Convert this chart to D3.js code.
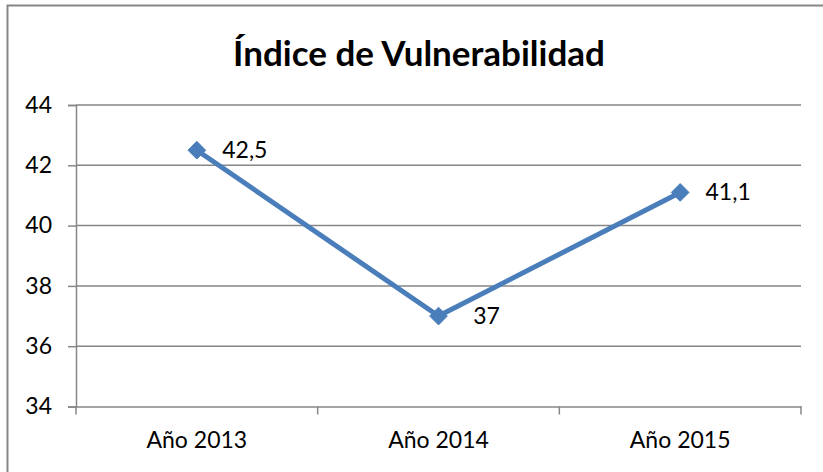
<!DOCTYPE html>
<html>
<head>
<meta charset="utf-8">
<script src="https://cdn.jsdelivr.net/npm/d3@7"></script>
<style>
  html, body { margin: 0; padding: 0; background: #fff; }
  svg { display: block; font-family: Lato, "Open Sans", sans-serif; }
</style>
</head>
<body>
<svg id="chart" width="823" height="472"></svg>
<script>
// Vulnerability index by year
const categories = ["Año 2013", "Año 2014", "Año 2015"];
const values = [42.5, 37, 41.1];
const valueLabels = ["42,5", "37", "41,1"];
const yTicks = [34, 36, 38, 40, 42, 44];
const title = "Índice de Vulnerabilidad";

const svg = d3.select("#chart");
const W = 823, H = 472;
const margin = { left: 76, right: 22, top: 105, bottom: 65.5 };
const plotRight = W - margin.right;
const plotBottom = H - margin.bottom;

const gridColor = "#868686";
const lineColor = "#4A7EBB";
const labelSize = 23;

// Outer chart frame (extends past the right/bottom edges)
svg.append("rect")
  .attr("x", 7.5).attr("y", 5.5)
  .attr("width", W + 20).attr("height", H + 20)
  .attr("fill", "none")
  .attr("stroke", gridColor)
  .attr("stroke-width", 2);

const x = d3.scaleBand().domain(categories).range([margin.left, plotRight]).padding(0);
const y = d3.scaleLinear().domain([34, 44]).range([plotBottom, margin.top]);

// Horizontal gridlines
svg.append("g")
  .selectAll("line")
  .data(yTicks.filter(t => t !== 34))
  .join("line")
  .attr("x1", margin.left).attr("x2", plotRight)
  .attr("y1", d => y(d)).attr("y2", d => y(d))
  .attr("stroke", gridColor).attr("stroke-width", 1.5);

// Y axis
const yAxis = svg.append("g")
  .attr("transform", `translate(${margin.left},0)`)
  .call(d3.axisLeft(y).tickValues(yTicks).tickSize(8).tickPadding(16));
yAxis.select(".domain").attr("stroke", gridColor).attr("stroke-width", 1.5);
yAxis.selectAll(".tick line").attr("stroke", gridColor).attr("stroke-width", 1.5);
yAxis.selectAll(".tick text")
  .attr("fill", "#000").attr("font-size", labelSize).attr("font-family", "Lato, sans-serif");

// X axis with ticks at band boundaries
const xAxis = svg.append("g")
  .attr("transform", `translate(0,${plotBottom})`)
  .call(d3.axisBottom(x).tickSize(0).tickPadding(25));
xAxis.select(".domain").attr("stroke", gridColor).attr("stroke-width", 1.5);
xAxis.selectAll(".tick text")
  .attr("fill", "#000").attr("font-size", labelSize).attr("font-family", "Lato, sans-serif");
const bounds = categories.map(c => x(c)).concat([x(categories[categories.length - 1]) + x.bandwidth()]);
xAxis.selectAll(".bound")
  .data(bounds)
  .join("line")
  .attr("class", "bound")
  .attr("x1", d => d).attr("x2", d => d)
  .attr("y1", 0).attr("y2", 8)
  .attr("stroke", gridColor).attr("stroke-width", 1.5);

// Series line
const pts = categories.map((c, i) => [x(c) + x.bandwidth() / 2, y(values[i])]);
svg.append("path")
  .datum(pts)
  .attr("d", d3.line())
  .attr("fill", "none")
  .attr("stroke", lineColor)
  .attr("stroke-width", 5)
  .attr("stroke-linejoin", "round");

// Diamond markers
svg.append("g")
  .selectAll("path")
  .data(pts)
  .join("path")
  .attr("transform", d => `translate(${d[0]},${d[1]})`)
  .attr("d", d3.symbol(d3.symbolDiamond2, 200)())
  .attr("fill", lineColor)
  .attr("stroke", lineColor)
  .attr("stroke-width", 1);

// Value labels
svg.append("g")
  .selectAll("text")
  .data(pts)
  .join("text")
  .attr("x", d => d[0] + 48)
  .attr("y", d => d[1])
  .attr("dy", "0.35em")
  .attr("text-anchor", "middle")
  .attr("font-size", labelSize)
  .attr("fill", "#000")
  .text((d, i) => valueLabels[i]);

// Title
svg.append("text")
  .attr("x", 419).attr("y", 66)
  .attr("text-anchor", "middle")
  .attr("font-size", 35)
  .attr("font-weight", "bold")
  .attr("fill", "#000")
  .text(title);
</script>
</body>
</html>
